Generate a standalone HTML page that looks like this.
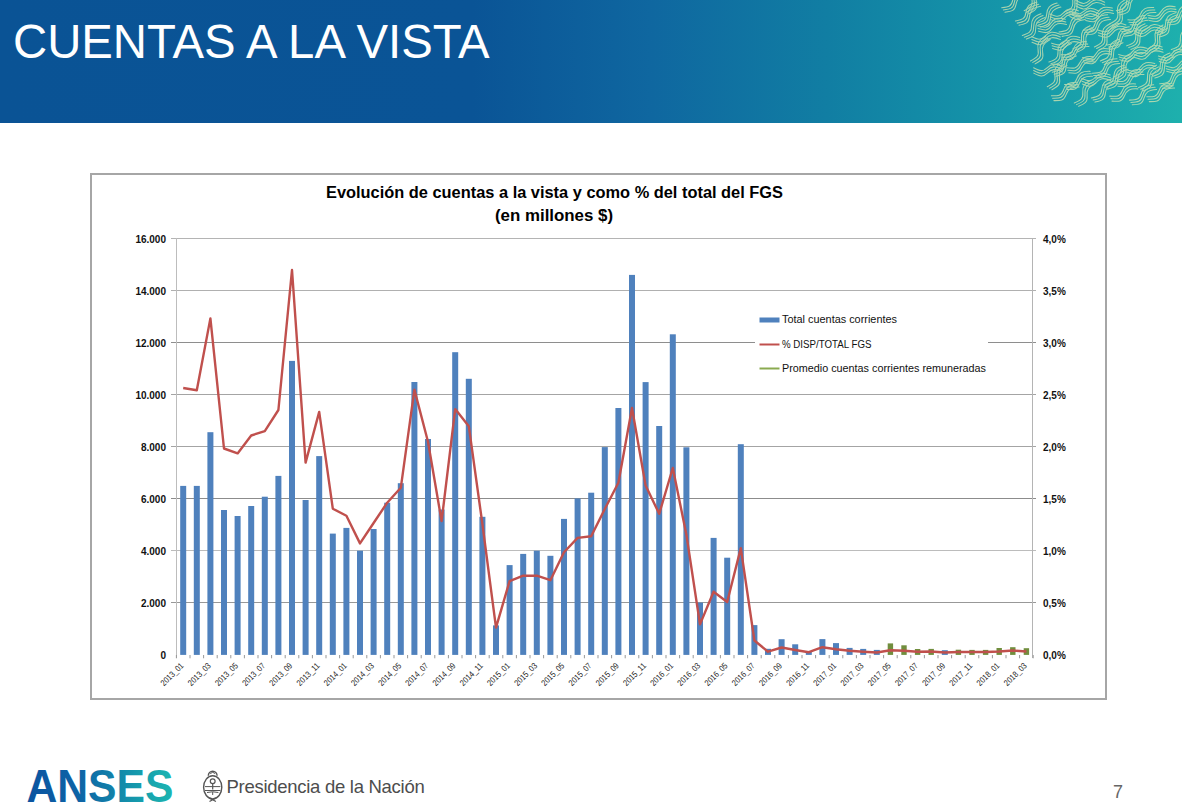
<!DOCTYPE html>
<html><head><meta charset="utf-8">
<style>
html,body{margin:0;padding:0;}
body{width:1182px;height:811px;position:relative;overflow:hidden;background:#fff;font-family:"Liberation Sans",sans-serif;}
.hdr{position:absolute;left:0;top:0;width:1182px;height:123px;
background:linear-gradient(90deg,#0a5395 0%,#0a5496 40%,#0f67a0 55%,#117ea3 70%,#1596a9 85%,#1eb0ad 100%);}
.title{position:absolute;left:13px;top:12.5px;color:#fff;font-size:47.3px;line-height:58px;letter-spacing:0px;white-space:nowrap;}
.box{position:absolute;left:90px;top:173px;width:1013px;height:523px;border:2px solid #a6a6a6;background:#fff;}
svg.ch{position:absolute;left:0;top:0;}
.ax{font-size:10px;font-weight:bold;fill:#111;}
.xl{font-size:8.6px;fill:#1a1a1a;}
.lg{font-size:10px;fill:#111;}
.tt{font-size:16px;font-weight:bold;fill:#000;}
.anses{position:absolute;left:27px;top:758px;font-size:42px;font-weight:bold;line-height:50px;
background:linear-gradient(90deg,#0b4f9a 0%,#0d6aa2 45%,#12a3ad 80%,#1ab5b0 100%);-webkit-background-clip:text;background-clip:text;color:transparent;}
.pres{position:absolute;left:226.5px;top:776px;font-size:18.5px;line-height:22px;letter-spacing:-0.28px;color:#4d4d4d;white-space:nowrap;}
.pnum{position:absolute;left:1113px;top:781px;font-size:18px;line-height:22px;color:#666;}
</style></head><body>
<div class="hdr"></div>
<svg class="waves" width="1182" height="123" style="position:absolute;left:0;top:0"><g fill="none" stroke="#d2e4b0" stroke-width="1.05" stroke-linecap="round" opacity="0.78"><g transform="translate(1000.6,-7.8) rotate(-8 12 7) scale(1.0)"><path d="M0.0,14.0 c7,0 10,0 12,-6 s5,-8 13,-8"/><path d="M1.3,16.4 c7,0 10,0 12,-6 s5,-8 13,-8"/><path d="M2.6,18.8 c7,0 10,0 12,-6 s5,-8 13,-8"/></g><g transform="translate(1019.5,-8.0) rotate(-28 12 7) scale(1.0)"><path d="M0.0,14.0 c7,0 10,0 12,-6 s5,-8 13,-8"/><path d="M1.3,16.4 c7,0 10,0 12,-6 s5,-8 13,-8"/><path d="M2.6,18.8 c7,0 10,0 12,-6 s5,-8 13,-8"/></g><g transform="translate(1060.4,-6.0) rotate(-23 12 7) scale(1.0)"><path d="M0.0,14.0 c7,0 10,0 12,-6 s5,-8 13,-8"/><path d="M1.3,16.4 c7,0 10,0 12,-6 s5,-8 13,-8"/><path d="M2.6,18.8 c7,0 10,0 12,-6 s5,-8 13,-8"/></g><g transform="translate(1077.8,-7.2) rotate(27 12 7) scale(1.0)"><path d="M0.0,14.0 c7,0 10,0 12,-6 s5,-8 13,-8"/><path d="M1.3,16.4 c7,0 10,0 12,-6 s5,-8 13,-8"/><path d="M2.6,18.8 c7,0 10,0 12,-6 s5,-8 13,-8"/></g><g transform="translate(1114.4,-5.8) rotate(-13 12 7) scale(1.0)"><path d="M0.0,14.0 c7,0 10,0 12,-6 s5,-8 13,-8"/><path d="M1.3,16.4 c7,0 10,0 12,-6 s5,-8 13,-8"/><path d="M2.6,18.8 c7,0 10,0 12,-6 s5,-8 13,-8"/></g><g transform="translate(1013.7,4.7) rotate(-12 12 7) scale(1.0)"><path d="M0.0,14.0 c7,0 10,0 12,-6 s5,-8 13,-8"/><path d="M1.3,16.4 c7,0 10,0 12,-6 s5,-8 13,-8"/><path d="M2.6,18.8 c7,0 10,0 12,-6 s5,-8 13,-8"/></g><g transform="translate(1034.4,6.2) rotate(-15 12 7) scale(1.0)"><path d="M0.0,14.0 c7,0 10,0 12,-6 s5,-8 13,-8"/><path d="M1.3,16.4 c7,0 10,0 12,-6 s5,-8 13,-8"/><path d="M2.6,18.8 c7,0 10,0 12,-6 s5,-8 13,-8"/></g><g transform="translate(1051.6,5.2) rotate(23 12 7) scale(1.0)"><path d="M0.0,14.0 c7,0 10,0 12,-6 s5,-8 13,-8"/><path d="M1.3,16.4 c7,0 10,0 12,-6 s5,-8 13,-8"/><path d="M2.6,18.8 c7,0 10,0 12,-6 s5,-8 13,-8"/></g><g transform="translate(1071.8,3.7) rotate(29 12 7) scale(1.0)"><path d="M0.0,14.0 c7,0 10,0 12,-6 s5,-8 13,-8"/><path d="M1.3,16.4 c7,0 10,0 12,-6 s5,-8 13,-8"/><path d="M2.6,18.8 c7,0 10,0 12,-6 s5,-8 13,-8"/></g><g transform="translate(1085.9,4.5) rotate(15 12 7) scale(1.0)"><path d="M0.0,14.0 c7,0 10,0 12,-6 s5,-8 13,-8"/><path d="M1.3,16.4 c7,0 10,0 12,-6 s5,-8 13,-8"/><path d="M2.6,18.8 c7,0 10,0 12,-6 s5,-8 13,-8"/></g><g transform="translate(1105.2,4.9) rotate(-28 12 7) scale(1.0)"><path d="M0.0,14.0 c7,0 10,0 12,-6 s5,-8 13,-8"/><path d="M1.3,16.4 c7,0 10,0 12,-6 s5,-8 13,-8"/><path d="M2.6,18.8 c7,0 10,0 12,-6 s5,-8 13,-8"/></g><g transform="translate(1128.3,6.6) rotate(4 12 7) scale(1.0)"><path d="M0.0,14.0 c7,0 10,0 12,-6 s5,-8 13,-8"/><path d="M1.3,16.4 c7,0 10,0 12,-6 s5,-8 13,-8"/><path d="M2.6,18.8 c7,0 10,0 12,-6 s5,-8 13,-8"/></g><g transform="translate(1149.0,3.9) rotate(12 12 7) scale(1.0)"><path d="M0.0,14.0 c7,0 10,0 12,-6 s5,-8 13,-8"/><path d="M1.3,16.4 c7,0 10,0 12,-6 s5,-8 13,-8"/><path d="M2.6,18.8 c7,0 10,0 12,-6 s5,-8 13,-8"/></g><g transform="translate(1165.8,5.5) rotate(-3 12 7) scale(1.0)"><path d="M0.0,14.0 c7,0 10,0 12,-6 s5,-8 13,-8"/><path d="M1.3,16.4 c7,0 10,0 12,-6 s5,-8 13,-8"/><path d="M2.6,18.8 c7,0 10,0 12,-6 s5,-8 13,-8"/></g><g transform="translate(1019.2,17.8) rotate(-20 12 7) scale(1.0)"><path d="M0.0,14.0 c7,0 10,0 12,-6 s5,-8 13,-8"/><path d="M1.3,16.4 c7,0 10,0 12,-6 s5,-8 13,-8"/><path d="M2.6,18.8 c7,0 10,0 12,-6 s5,-8 13,-8"/></g><g transform="translate(1038.9,15.4) rotate(16 12 7) scale(1.0)"><path d="M0.0,14.0 c7,0 10,0 12,-6 s5,-8 13,-8"/><path d="M1.3,16.4 c7,0 10,0 12,-6 s5,-8 13,-8"/><path d="M2.6,18.8 c7,0 10,0 12,-6 s5,-8 13,-8"/></g><g transform="translate(1058.0,16.5) rotate(-7 12 7) scale(1.0)"><path d="M0.0,14.0 c7,0 10,0 12,-6 s5,-8 13,-8"/><path d="M1.3,16.4 c7,0 10,0 12,-6 s5,-8 13,-8"/><path d="M2.6,18.8 c7,0 10,0 12,-6 s5,-8 13,-8"/></g><g transform="translate(1083.0,15.5) rotate(-3 12 7) scale(1.0)"><path d="M0.0,14.0 c7,0 10,0 12,-6 s5,-8 13,-8"/><path d="M1.3,16.4 c7,0 10,0 12,-6 s5,-8 13,-8"/><path d="M2.6,18.8 c7,0 10,0 12,-6 s5,-8 13,-8"/></g><g transform="translate(1099.4,20.3) rotate(19 12 7) scale(1.0)"><path d="M0.0,14.0 c7,0 10,0 12,-6 s5,-8 13,-8"/><path d="M1.3,16.4 c7,0 10,0 12,-6 s5,-8 13,-8"/><path d="M2.6,18.8 c7,0 10,0 12,-6 s5,-8 13,-8"/></g><g transform="translate(1120.9,16.7) rotate(-5 12 7) scale(1.0)"><path d="M0.0,14.0 c7,0 10,0 12,-6 s5,-8 13,-8"/><path d="M1.3,16.4 c7,0 10,0 12,-6 s5,-8 13,-8"/><path d="M2.6,18.8 c7,0 10,0 12,-6 s5,-8 13,-8"/></g><g transform="translate(1135.9,20.3) rotate(27 12 7) scale(1.0)"><path d="M0.0,14.0 c7,0 10,0 12,-6 s5,-8 13,-8"/><path d="M1.3,16.4 c7,0 10,0 12,-6 s5,-8 13,-8"/><path d="M2.6,18.8 c7,0 10,0 12,-6 s5,-8 13,-8"/></g><g transform="translate(1153.2,16.1) rotate(-16 12 7) scale(1.0)"><path d="M0.0,14.0 c7,0 10,0 12,-6 s5,-8 13,-8"/><path d="M1.3,16.4 c7,0 10,0 12,-6 s5,-8 13,-8"/><path d="M2.6,18.8 c7,0 10,0 12,-6 s5,-8 13,-8"/></g><g transform="translate(1033.4,28.3) rotate(24 12 7) scale(1.0)"><path d="M0.0,14.0 c7,0 10,0 12,-6 s5,-8 13,-8"/><path d="M1.3,16.4 c7,0 10,0 12,-6 s5,-8 13,-8"/><path d="M2.6,18.8 c7,0 10,0 12,-6 s5,-8 13,-8"/></g><g transform="translate(1053.2,33.2) rotate(18 12 7) scale(1.0)"><path d="M0.0,14.0 c7,0 10,0 12,-6 s5,-8 13,-8"/><path d="M1.3,16.4 c7,0 10,0 12,-6 s5,-8 13,-8"/><path d="M2.6,18.8 c7,0 10,0 12,-6 s5,-8 13,-8"/></g><g transform="translate(1069.1,30.4) rotate(-24 12 7) scale(1.0)"><path d="M0.0,14.0 c7,0 10,0 12,-6 s5,-8 13,-8"/><path d="M1.3,16.4 c7,0 10,0 12,-6 s5,-8 13,-8"/><path d="M2.6,18.8 c7,0 10,0 12,-6 s5,-8 13,-8"/></g><g transform="translate(1090.1,28.4) rotate(-26 12 7) scale(1.0)"><path d="M0.0,14.0 c7,0 10,0 12,-6 s5,-8 13,-8"/><path d="M1.3,16.4 c7,0 10,0 12,-6 s5,-8 13,-8"/><path d="M2.6,18.8 c7,0 10,0 12,-6 s5,-8 13,-8"/></g><g transform="translate(1105.7,29.0) rotate(-10 12 7) scale(1.0)"><path d="M0.0,14.0 c7,0 10,0 12,-6 s5,-8 13,-8"/><path d="M1.3,16.4 c7,0 10,0 12,-6 s5,-8 13,-8"/><path d="M2.6,18.8 c7,0 10,0 12,-6 s5,-8 13,-8"/></g><g transform="translate(1123.4,28.0) rotate(-21 12 7) scale(1.0)"><path d="M0.0,14.0 c7,0 10,0 12,-6 s5,-8 13,-8"/><path d="M1.3,16.4 c7,0 10,0 12,-6 s5,-8 13,-8"/><path d="M2.6,18.8 c7,0 10,0 12,-6 s5,-8 13,-8"/></g><g transform="translate(1142.8,30.2) rotate(-28 12 7) scale(1.0)"><path d="M0.0,14.0 c7,0 10,0 12,-6 s5,-8 13,-8"/><path d="M1.3,16.4 c7,0 10,0 12,-6 s5,-8 13,-8"/><path d="M2.6,18.8 c7,0 10,0 12,-6 s5,-8 13,-8"/></g><g transform="translate(1168.0,31.7) rotate(-21 12 7) scale(1.0)"><path d="M0.0,14.0 c7,0 10,0 12,-6 s5,-8 13,-8"/><path d="M1.3,16.4 c7,0 10,0 12,-6 s5,-8 13,-8"/><path d="M2.6,18.8 c7,0 10,0 12,-6 s5,-8 13,-8"/></g><g transform="translate(1025.6,42.0) rotate(-29 12 7) scale(1.0)"><path d="M0.0,14.0 c7,0 10,0 12,-6 s5,-8 13,-8"/><path d="M1.3,16.4 c7,0 10,0 12,-6 s5,-8 13,-8"/><path d="M2.6,18.8 c7,0 10,0 12,-6 s5,-8 13,-8"/></g><g transform="translate(1045.6,44.2) rotate(-21 12 7) scale(1.0)"><path d="M0.0,14.0 c7,0 10,0 12,-6 s5,-8 13,-8"/><path d="M1.3,16.4 c7,0 10,0 12,-6 s5,-8 13,-8"/><path d="M2.6,18.8 c7,0 10,0 12,-6 s5,-8 13,-8"/></g><g transform="translate(1061.3,41.2) rotate(2 12 7) scale(1.0)"><path d="M0.0,14.0 c7,0 10,0 12,-6 s5,-8 13,-8"/><path d="M1.3,16.4 c7,0 10,0 12,-6 s5,-8 13,-8"/><path d="M2.6,18.8 c7,0 10,0 12,-6 s5,-8 13,-8"/></g><g transform="translate(1083.8,46.2) rotate(12 12 7) scale(1.0)"><path d="M0.0,14.0 c7,0 10,0 12,-6 s5,-8 13,-8"/><path d="M1.3,16.4 c7,0 10,0 12,-6 s5,-8 13,-8"/><path d="M2.6,18.8 c7,0 10,0 12,-6 s5,-8 13,-8"/></g><g transform="translate(1097.1,43.2) rotate(-20 12 7) scale(1.0)"><path d="M0.0,14.0 c7,0 10,0 12,-6 s5,-8 13,-8"/><path d="M1.3,16.4 c7,0 10,0 12,-6 s5,-8 13,-8"/><path d="M2.6,18.8 c7,0 10,0 12,-6 s5,-8 13,-8"/></g><g transform="translate(1120.2,44.2) rotate(17 12 7) scale(1.0)"><path d="M0.0,14.0 c7,0 10,0 12,-6 s5,-8 13,-8"/><path d="M1.3,16.4 c7,0 10,0 12,-6 s5,-8 13,-8"/><path d="M2.6,18.8 c7,0 10,0 12,-6 s5,-8 13,-8"/></g><g transform="translate(1135.6,42.3) rotate(19 12 7) scale(1.0)"><path d="M0.0,14.0 c7,0 10,0 12,-6 s5,-8 13,-8"/><path d="M1.3,16.4 c7,0 10,0 12,-6 s5,-8 13,-8"/><path d="M2.6,18.8 c7,0 10,0 12,-6 s5,-8 13,-8"/></g><g transform="translate(1159.9,46.1) rotate(18 12 7) scale(1.0)"><path d="M0.0,14.0 c7,0 10,0 12,-6 s5,-8 13,-8"/><path d="M1.3,16.4 c7,0 10,0 12,-6 s5,-8 13,-8"/><path d="M2.6,18.8 c7,0 10,0 12,-6 s5,-8 13,-8"/></g><g transform="translate(1035.5,59.9) rotate(27 12 7) scale(1.0)"><path d="M0.0,14.0 c7,0 10,0 12,-6 s5,-8 13,-8"/><path d="M1.3,16.4 c7,0 10,0 12,-6 s5,-8 13,-8"/><path d="M2.6,18.8 c7,0 10,0 12,-6 s5,-8 13,-8"/></g><g transform="translate(1049.9,55.3) rotate(-16 12 7) scale(1.0)"><path d="M0.0,14.0 c7,0 10,0 12,-6 s5,-8 13,-8"/><path d="M1.3,16.4 c7,0 10,0 12,-6 s5,-8 13,-8"/><path d="M2.6,18.8 c7,0 10,0 12,-6 s5,-8 13,-8"/></g><g transform="translate(1067.6,55.2) rotate(7 12 7) scale(1.0)"><path d="M0.0,14.0 c7,0 10,0 12,-6 s5,-8 13,-8"/><path d="M1.3,16.4 c7,0 10,0 12,-6 s5,-8 13,-8"/><path d="M2.6,18.8 c7,0 10,0 12,-6 s5,-8 13,-8"/></g><g transform="translate(1092.2,59.0) rotate(-1 12 7) scale(1.0)"><path d="M0.0,14.0 c7,0 10,0 12,-6 s5,-8 13,-8"/><path d="M1.3,16.4 c7,0 10,0 12,-6 s5,-8 13,-8"/><path d="M2.6,18.8 c7,0 10,0 12,-6 s5,-8 13,-8"/></g><g transform="translate(1109.2,58.8) rotate(-25 12 7) scale(1.0)"><path d="M0.0,14.0 c7,0 10,0 12,-6 s5,-8 13,-8"/><path d="M1.3,16.4 c7,0 10,0 12,-6 s5,-8 13,-8"/><path d="M2.6,18.8 c7,0 10,0 12,-6 s5,-8 13,-8"/></g><g transform="translate(1128.3,59.5) rotate(17 12 7) scale(1.0)"><path d="M0.0,14.0 c7,0 10,0 12,-6 s5,-8 13,-8"/><path d="M1.3,16.4 c7,0 10,0 12,-6 s5,-8 13,-8"/><path d="M2.6,18.8 c7,0 10,0 12,-6 s5,-8 13,-8"/></g><g transform="translate(1148.0,56.9) rotate(-19 12 7) scale(1.0)"><path d="M0.0,14.0 c7,0 10,0 12,-6 s5,-8 13,-8"/><path d="M1.3,16.4 c7,0 10,0 12,-6 s5,-8 13,-8"/><path d="M2.6,18.8 c7,0 10,0 12,-6 s5,-8 13,-8"/></g><g transform="translate(1167.3,56.0) rotate(18 12 7) scale(1.0)"><path d="M0.0,14.0 c7,0 10,0 12,-6 s5,-8 13,-8"/><path d="M1.3,16.4 c7,0 10,0 12,-6 s5,-8 13,-8"/><path d="M2.6,18.8 c7,0 10,0 12,-6 s5,-8 13,-8"/></g><g transform="translate(1042.4,67.8) rotate(-29 12 7) scale(1.0)"><path d="M0.0,14.0 c7,0 10,0 12,-6 s5,-8 13,-8"/><path d="M1.3,16.4 c7,0 10,0 12,-6 s5,-8 13,-8"/><path d="M2.6,18.8 c7,0 10,0 12,-6 s5,-8 13,-8"/></g><g transform="translate(1064.8,70.9) rotate(2 12 7) scale(1.0)"><path d="M0.0,14.0 c7,0 10,0 12,-6 s5,-8 13,-8"/><path d="M1.3,16.4 c7,0 10,0 12,-6 s5,-8 13,-8"/><path d="M2.6,18.8 c7,0 10,0 12,-6 s5,-8 13,-8"/></g><g transform="translate(1083.5,69.6) rotate(22 12 7) scale(1.0)"><path d="M0.0,14.0 c7,0 10,0 12,-6 s5,-8 13,-8"/><path d="M1.3,16.4 c7,0 10,0 12,-6 s5,-8 13,-8"/><path d="M2.6,18.8 c7,0 10,0 12,-6 s5,-8 13,-8"/></g><g transform="translate(1101.6,68.3) rotate(-15 12 7) scale(1.0)"><path d="M0.0,14.0 c7,0 10,0 12,-6 s5,-8 13,-8"/><path d="M1.3,16.4 c7,0 10,0 12,-6 s5,-8 13,-8"/><path d="M2.6,18.8 c7,0 10,0 12,-6 s5,-8 13,-8"/></g><g transform="translate(1116.3,68.4) rotate(5 12 7) scale(1.0)"><path d="M0.0,14.0 c7,0 10,0 12,-6 s5,-8 13,-8"/><path d="M1.3,16.4 c7,0 10,0 12,-6 s5,-8 13,-8"/><path d="M2.6,18.8 c7,0 10,0 12,-6 s5,-8 13,-8"/></g><g transform="translate(1135.1,69.5) rotate(-22 12 7) scale(1.0)"><path d="M0.0,14.0 c7,0 10,0 12,-6 s5,-8 13,-8"/><path d="M1.3,16.4 c7,0 10,0 12,-6 s5,-8 13,-8"/><path d="M2.6,18.8 c7,0 10,0 12,-6 s5,-8 13,-8"/></g><g transform="translate(1159.3,69.1) rotate(-3 12 7) scale(1.0)"><path d="M0.0,14.0 c7,0 10,0 12,-6 s5,-8 13,-8"/><path d="M1.3,16.4 c7,0 10,0 12,-6 s5,-8 13,-8"/><path d="M2.6,18.8 c7,0 10,0 12,-6 s5,-8 13,-8"/></g><g transform="translate(1051.5,82.0) rotate(1 12 7) scale(1.0)"><path d="M0.0,14.0 c7,0 10,0 12,-6 s5,-8 13,-8"/><path d="M1.3,16.4 c7,0 10,0 12,-6 s5,-8 13,-8"/><path d="M2.6,18.8 c7,0 10,0 12,-6 s5,-8 13,-8"/></g><g transform="translate(1070.4,84.7) rotate(-24 12 7) scale(1.0)"><path d="M0.0,14.0 c7,0 10,0 12,-6 s5,-8 13,-8"/><path d="M1.3,16.4 c7,0 10,0 12,-6 s5,-8 13,-8"/><path d="M2.6,18.8 c7,0 10,0 12,-6 s5,-8 13,-8"/></g><g transform="translate(1089.5,81.5) rotate(-13 12 7) scale(1.0)"><path d="M0.0,14.0 c7,0 10,0 12,-6 s5,-8 13,-8"/><path d="M1.3,16.4 c7,0 10,0 12,-6 s5,-8 13,-8"/><path d="M2.6,18.8 c7,0 10,0 12,-6 s5,-8 13,-8"/></g><g transform="translate(1110.2,83.0) rotate(4 12 7) scale(1.0)"><path d="M0.0,14.0 c7,0 10,0 12,-6 s5,-8 13,-8"/><path d="M1.3,16.4 c7,0 10,0 12,-6 s5,-8 13,-8"/><path d="M2.6,18.8 c7,0 10,0 12,-6 s5,-8 13,-8"/></g><g transform="translate(1129.1,85.5) rotate(-3 12 7) scale(1.0)"><path d="M0.0,14.0 c7,0 10,0 12,-6 s5,-8 13,-8"/><path d="M1.3,16.4 c7,0 10,0 12,-6 s5,-8 13,-8"/><path d="M2.6,18.8 c7,0 10,0 12,-6 s5,-8 13,-8"/></g><g transform="translate(1146.9,83.0) rotate(1 12 7) scale(1.0)"><path d="M0.0,14.0 c7,0 10,0 12,-6 s5,-8 13,-8"/><path d="M1.3,16.4 c7,0 10,0 12,-6 s5,-8 13,-8"/><path d="M2.6,18.8 c7,0 10,0 12,-6 s5,-8 13,-8"/></g></g></svg>
<div class="title">CUENTAS A LA VISTA</div>
<div class="box"></div>
<svg class="ch" width="1182" height="811" viewBox="0 0 1182 811">
<line x1="171" y1="238.5" x2="1036" y2="238.5" stroke="#b4b4b4" stroke-width="1"/>
<line x1="171" y1="290.5" x2="1036" y2="290.5" stroke="#b0b0b0" stroke-width="1"/>
<line x1="171" y1="342.5" x2="1036" y2="342.5" stroke="#8e8e8e" stroke-width="1"/>
<line x1="171" y1="394.5" x2="1036" y2="394.5" stroke="#a4a4a4" stroke-width="1"/>
<line x1="171" y1="446.5" x2="1036" y2="446.5" stroke="#a4a4a4" stroke-width="1"/>
<line x1="171" y1="498.5" x2="1036" y2="498.5" stroke="#8c8c8c" stroke-width="1"/>
<line x1="171" y1="550.5" x2="1036" y2="550.5" stroke="#bcbcbc" stroke-width="1"/>
<line x1="171" y1="602.5" x2="1036" y2="602.5" stroke="#989898" stroke-width="1"/>
<rect x="755" y="308" width="233" height="72" fill="#fff"/>
<rect x="180.20" y="485.9" width="6.0" height="169.0" fill="#4f81bd"/>
<rect x="193.80" y="485.9" width="6.0" height="169.0" fill="#4f81bd"/>
<rect x="207.40" y="432.2" width="6.0" height="222.7" fill="#4f81bd"/>
<rect x="221.00" y="510.0" width="6.0" height="144.9" fill="#4f81bd"/>
<rect x="234.60" y="516.0" width="6.0" height="138.9" fill="#4f81bd"/>
<rect x="248.20" y="506.0" width="6.0" height="148.9" fill="#4f81bd"/>
<rect x="261.80" y="496.7" width="6.0" height="158.2" fill="#4f81bd"/>
<rect x="275.40" y="475.9" width="6.0" height="179.0" fill="#4f81bd"/>
<rect x="289.00" y="360.9" width="6.0" height="294.0" fill="#4f81bd"/>
<rect x="302.60" y="500.0" width="6.0" height="154.9" fill="#4f81bd"/>
<rect x="316.20" y="456.1" width="6.0" height="198.8" fill="#4f81bd"/>
<rect x="329.80" y="533.6" width="6.0" height="121.3" fill="#4f81bd"/>
<rect x="343.40" y="527.9" width="6.0" height="127.0" fill="#4f81bd"/>
<rect x="357.00" y="550.7" width="6.0" height="104.2" fill="#4f81bd"/>
<rect x="370.60" y="529.0" width="6.0" height="125.9" fill="#4f81bd"/>
<rect x="384.20" y="502.7" width="6.0" height="152.2" fill="#4f81bd"/>
<rect x="397.80" y="483.2" width="6.0" height="171.7" fill="#4f81bd"/>
<rect x="411.40" y="382.0" width="6.0" height="272.9" fill="#4f81bd"/>
<rect x="425.00" y="439.0" width="6.0" height="215.9" fill="#4f81bd"/>
<rect x="438.60" y="509.5" width="6.0" height="145.4" fill="#4f81bd"/>
<rect x="452.20" y="352.2" width="6.0" height="302.7" fill="#4f81bd"/>
<rect x="465.80" y="378.8" width="6.0" height="276.1" fill="#4f81bd"/>
<rect x="479.40" y="516.8" width="6.0" height="138.1" fill="#4f81bd"/>
<rect x="493.00" y="625.4" width="6.0" height="29.5" fill="#4f81bd"/>
<rect x="506.60" y="565.1" width="6.0" height="89.8" fill="#4f81bd"/>
<rect x="520.20" y="553.9" width="6.0" height="101.0" fill="#4f81bd"/>
<rect x="533.80" y="550.7" width="6.0" height="104.2" fill="#4f81bd"/>
<rect x="547.40" y="555.8" width="6.0" height="99.1" fill="#4f81bd"/>
<rect x="561.00" y="518.9" width="6.0" height="136.0" fill="#4f81bd"/>
<rect x="574.60" y="498.4" width="6.0" height="156.5" fill="#4f81bd"/>
<rect x="588.20" y="492.7" width="6.0" height="162.2" fill="#4f81bd"/>
<rect x="601.80" y="447.1" width="6.0" height="207.8" fill="#4f81bd"/>
<rect x="615.40" y="408.0" width="6.0" height="246.9" fill="#4f81bd"/>
<rect x="629.00" y="274.9" width="6.0" height="380.0" fill="#4f81bd"/>
<rect x="642.60" y="382.1" width="6.0" height="272.8" fill="#4f81bd"/>
<rect x="656.20" y="426.0" width="6.0" height="228.9" fill="#4f81bd"/>
<rect x="669.80" y="334.3" width="6.0" height="320.6" fill="#4f81bd"/>
<rect x="683.40" y="447.3" width="6.0" height="207.6" fill="#4f81bd"/>
<rect x="697.00" y="602.6" width="6.0" height="52.3" fill="#4f81bd"/>
<rect x="710.60" y="537.9" width="6.0" height="117.0" fill="#4f81bd"/>
<rect x="724.20" y="557.7" width="6.0" height="97.2" fill="#4f81bd"/>
<rect x="737.80" y="444.2" width="6.0" height="210.7" fill="#4f81bd"/>
<rect x="751.40" y="625.1" width="6.0" height="29.8" fill="#4f81bd"/>
<rect x="765.00" y="648.8" width="6.0" height="6.1" fill="#4f81bd"/>
<rect x="778.60" y="639.2" width="6.0" height="15.7" fill="#4f81bd"/>
<rect x="792.20" y="644.3" width="6.0" height="10.6" fill="#4f81bd"/>
<rect x="805.80" y="651.3" width="6.0" height="3.6" fill="#4f81bd"/>
<rect x="819.40" y="639.1" width="6.0" height="15.8" fill="#4f81bd"/>
<rect x="833.00" y="643.1" width="6.0" height="11.8" fill="#4f81bd"/>
<rect x="846.60" y="647.9" width="6.0" height="7.0" fill="#4f81bd"/>
<rect x="860.20" y="648.9" width="6.0" height="6.0" fill="#4f81bd"/>
<rect x="873.80" y="649.9" width="6.0" height="5.0" fill="#4f81bd"/>
<rect x="887.70" y="643.4" width="5.4" height="11.5" fill="#718e3e"/>
<rect x="901.30" y="645.3" width="5.4" height="9.6" fill="#718e3e"/>
<rect x="914.90" y="649.0" width="5.4" height="5.9" fill="#718e3e"/>
<rect x="928.50" y="648.9" width="5.4" height="6.0" fill="#718e3e"/>
<rect x="941.80" y="650.2" width="6.0" height="4.7" fill="#4f81bd"/>
<rect x="955.70" y="649.7" width="5.4" height="5.2" fill="#718e3e"/>
<rect x="969.30" y="649.9" width="5.4" height="5.0" fill="#718e3e"/>
<rect x="982.90" y="649.9" width="5.4" height="5.0" fill="#718e3e"/>
<rect x="996.50" y="648.0" width="5.4" height="6.9" fill="#718e3e"/>
<rect x="1010.10" y="647.2" width="5.4" height="7.7" fill="#718e3e"/>
<rect x="1023.70" y="648.2" width="5.4" height="6.7" fill="#718e3e"/>
<line x1="176.5" y1="238" x2="176.5" y2="658" stroke="#bdbdbd" stroke-width="1"/>
<line x1="1032.5" y1="238" x2="1032.5" y2="658" stroke="#b4b4b4" stroke-width="1"/>
<line x1="176.4" y1="655.0" x2="176.4" y2="658.3" stroke="#999" stroke-width="1"/>
<line x1="190.0" y1="655.0" x2="190.0" y2="658.3" stroke="#999" stroke-width="1"/>
<line x1="203.6" y1="655.0" x2="203.6" y2="658.3" stroke="#999" stroke-width="1"/>
<line x1="217.2" y1="655.0" x2="217.2" y2="658.3" stroke="#999" stroke-width="1"/>
<line x1="230.8" y1="655.0" x2="230.8" y2="658.3" stroke="#999" stroke-width="1"/>
<line x1="244.4" y1="655.0" x2="244.4" y2="658.3" stroke="#999" stroke-width="1"/>
<line x1="258.0" y1="655.0" x2="258.0" y2="658.3" stroke="#999" stroke-width="1"/>
<line x1="271.6" y1="655.0" x2="271.6" y2="658.3" stroke="#999" stroke-width="1"/>
<line x1="285.2" y1="655.0" x2="285.2" y2="658.3" stroke="#999" stroke-width="1"/>
<line x1="298.8" y1="655.0" x2="298.8" y2="658.3" stroke="#999" stroke-width="1"/>
<line x1="312.4" y1="655.0" x2="312.4" y2="658.3" stroke="#999" stroke-width="1"/>
<line x1="326.0" y1="655.0" x2="326.0" y2="658.3" stroke="#999" stroke-width="1"/>
<line x1="339.6" y1="655.0" x2="339.6" y2="658.3" stroke="#999" stroke-width="1"/>
<line x1="353.2" y1="655.0" x2="353.2" y2="658.3" stroke="#999" stroke-width="1"/>
<line x1="366.8" y1="655.0" x2="366.8" y2="658.3" stroke="#999" stroke-width="1"/>
<line x1="380.4" y1="655.0" x2="380.4" y2="658.3" stroke="#999" stroke-width="1"/>
<line x1="394.0" y1="655.0" x2="394.0" y2="658.3" stroke="#999" stroke-width="1"/>
<line x1="407.6" y1="655.0" x2="407.6" y2="658.3" stroke="#999" stroke-width="1"/>
<line x1="421.2" y1="655.0" x2="421.2" y2="658.3" stroke="#999" stroke-width="1"/>
<line x1="434.8" y1="655.0" x2="434.8" y2="658.3" stroke="#999" stroke-width="1"/>
<line x1="448.4" y1="655.0" x2="448.4" y2="658.3" stroke="#999" stroke-width="1"/>
<line x1="462.0" y1="655.0" x2="462.0" y2="658.3" stroke="#999" stroke-width="1"/>
<line x1="475.6" y1="655.0" x2="475.6" y2="658.3" stroke="#999" stroke-width="1"/>
<line x1="489.2" y1="655.0" x2="489.2" y2="658.3" stroke="#999" stroke-width="1"/>
<line x1="502.8" y1="655.0" x2="502.8" y2="658.3" stroke="#999" stroke-width="1"/>
<line x1="516.4" y1="655.0" x2="516.4" y2="658.3" stroke="#999" stroke-width="1"/>
<line x1="530.0" y1="655.0" x2="530.0" y2="658.3" stroke="#999" stroke-width="1"/>
<line x1="543.6" y1="655.0" x2="543.6" y2="658.3" stroke="#999" stroke-width="1"/>
<line x1="557.2" y1="655.0" x2="557.2" y2="658.3" stroke="#999" stroke-width="1"/>
<line x1="570.8" y1="655.0" x2="570.8" y2="658.3" stroke="#999" stroke-width="1"/>
<line x1="584.4" y1="655.0" x2="584.4" y2="658.3" stroke="#999" stroke-width="1"/>
<line x1="598.0" y1="655.0" x2="598.0" y2="658.3" stroke="#999" stroke-width="1"/>
<line x1="611.6" y1="655.0" x2="611.6" y2="658.3" stroke="#999" stroke-width="1"/>
<line x1="625.2" y1="655.0" x2="625.2" y2="658.3" stroke="#999" stroke-width="1"/>
<line x1="638.8" y1="655.0" x2="638.8" y2="658.3" stroke="#999" stroke-width="1"/>
<line x1="652.4" y1="655.0" x2="652.4" y2="658.3" stroke="#999" stroke-width="1"/>
<line x1="666.0" y1="655.0" x2="666.0" y2="658.3" stroke="#999" stroke-width="1"/>
<line x1="679.6" y1="655.0" x2="679.6" y2="658.3" stroke="#999" stroke-width="1"/>
<line x1="693.2" y1="655.0" x2="693.2" y2="658.3" stroke="#999" stroke-width="1"/>
<line x1="706.8" y1="655.0" x2="706.8" y2="658.3" stroke="#999" stroke-width="1"/>
<line x1="720.4" y1="655.0" x2="720.4" y2="658.3" stroke="#999" stroke-width="1"/>
<line x1="734.0" y1="655.0" x2="734.0" y2="658.3" stroke="#999" stroke-width="1"/>
<line x1="747.6" y1="655.0" x2="747.6" y2="658.3" stroke="#999" stroke-width="1"/>
<line x1="761.2" y1="655.0" x2="761.2" y2="658.3" stroke="#999" stroke-width="1"/>
<line x1="774.8" y1="655.0" x2="774.8" y2="658.3" stroke="#999" stroke-width="1"/>
<line x1="788.4" y1="655.0" x2="788.4" y2="658.3" stroke="#999" stroke-width="1"/>
<line x1="802.0" y1="655.0" x2="802.0" y2="658.3" stroke="#999" stroke-width="1"/>
<line x1="815.6" y1="655.0" x2="815.6" y2="658.3" stroke="#999" stroke-width="1"/>
<line x1="829.2" y1="655.0" x2="829.2" y2="658.3" stroke="#999" stroke-width="1"/>
<line x1="842.8" y1="655.0" x2="842.8" y2="658.3" stroke="#999" stroke-width="1"/>
<line x1="856.4" y1="655.0" x2="856.4" y2="658.3" stroke="#999" stroke-width="1"/>
<line x1="870.0" y1="655.0" x2="870.0" y2="658.3" stroke="#999" stroke-width="1"/>
<line x1="883.6" y1="655.0" x2="883.6" y2="658.3" stroke="#999" stroke-width="1"/>
<line x1="897.2" y1="655.0" x2="897.2" y2="658.3" stroke="#999" stroke-width="1"/>
<line x1="910.8" y1="655.0" x2="910.8" y2="658.3" stroke="#999" stroke-width="1"/>
<line x1="924.4" y1="655.0" x2="924.4" y2="658.3" stroke="#999" stroke-width="1"/>
<line x1="938.0" y1="655.0" x2="938.0" y2="658.3" stroke="#999" stroke-width="1"/>
<line x1="951.6" y1="655.0" x2="951.6" y2="658.3" stroke="#999" stroke-width="1"/>
<line x1="965.2" y1="655.0" x2="965.2" y2="658.3" stroke="#999" stroke-width="1"/>
<line x1="978.8" y1="655.0" x2="978.8" y2="658.3" stroke="#999" stroke-width="1"/>
<line x1="992.4" y1="655.0" x2="992.4" y2="658.3" stroke="#999" stroke-width="1"/>
<line x1="1006.0" y1="655.0" x2="1006.0" y2="658.3" stroke="#999" stroke-width="1"/>
<line x1="1019.6" y1="655.0" x2="1019.6" y2="658.3" stroke="#999" stroke-width="1"/>
<line x1="1033.2" y1="655.0" x2="1033.2" y2="658.3" stroke="#999" stroke-width="1"/>
<polyline points="183.2,388.0 196.8,390.2 210.4,318.4 224.0,448.5 237.6,453.4 251.2,435.5 264.8,431.1 278.4,410.0 292.0,270.0 305.6,462.6 319.2,411.9 332.8,508.7 346.4,515.7 360.0,543.4 373.6,523.0 387.2,502.7 400.8,487.8 414.4,389.6 428.0,441.7 441.6,521.1 455.2,409.1 468.8,426.2 482.4,524.0 496.0,627.6 509.6,581.1 523.2,575.7 536.8,575.7 550.4,580.2 564.0,552.3 577.6,537.9 591.2,536.3 604.8,509.0 618.4,482.7 632.0,408.0 645.6,485.5 659.2,513.8 672.8,468.0 686.4,534.7 700.0,624.4 713.6,591.7 727.2,602.0 740.8,548.1 754.4,640.5 768.0,651.7 781.6,647.5 795.2,650.0 808.8,652.2 822.4,647.2 836.0,649.2 849.6,650.7 863.2,651.7 876.8,652.5 890.4,650.2 904.0,650.7 917.6,651.7 931.2,651.5 944.8,652.5 958.4,652.0 972.0,652.0 985.6,652.0 999.2,651.5 1012.8,650.5 1026.4,651.5" fill="none" stroke="#c0504d" stroke-width="2.4" stroke-linejoin="round"/>
<text x="166" y="659.1" text-anchor="end" class="ax">0</text>
<text x="166" y="607.1" text-anchor="end" class="ax">2.000</text>
<text x="166" y="555.1" text-anchor="end" class="ax">4.000</text>
<text x="166" y="503.1" text-anchor="end" class="ax">6.000</text>
<text x="166" y="451.1" text-anchor="end" class="ax">8.000</text>
<text x="166" y="399.1" text-anchor="end" class="ax">10.000</text>
<text x="166" y="347.1" text-anchor="end" class="ax">12.000</text>
<text x="166" y="295.1" text-anchor="end" class="ax">14.000</text>
<text x="166" y="243.1" text-anchor="end" class="ax">16.000</text>
<text x="1043" y="659.1" class="ax">0,0%</text>
<text x="1043" y="607.1" class="ax">0,5%</text>
<text x="1043" y="555.1" class="ax">1,0%</text>
<text x="1043" y="503.1" class="ax">1,5%</text>
<text x="1043" y="451.1" class="ax">2,0%</text>
<text x="1043" y="399.1" class="ax">2,5%</text>
<text x="1043" y="347.1" class="ax">3,0%</text>
<text x="1043" y="295.1" class="ax">3,5%</text>
<text x="1043" y="243.1" class="ax">4,0%</text>
<text transform="translate(184.2,666.3) rotate(-45)" text-anchor="end" class="xl" textLength="28.5" lengthAdjust="spacingAndGlyphs">2013_01</text>
<text transform="translate(211.4,666.3) rotate(-45)" text-anchor="end" class="xl" textLength="28.5" lengthAdjust="spacingAndGlyphs">2013_03</text>
<text transform="translate(238.6,666.3) rotate(-45)" text-anchor="end" class="xl" textLength="28.5" lengthAdjust="spacingAndGlyphs">2013_05</text>
<text transform="translate(265.8,666.3) rotate(-45)" text-anchor="end" class="xl" textLength="28.5" lengthAdjust="spacingAndGlyphs">2013_07</text>
<text transform="translate(293.0,666.3) rotate(-45)" text-anchor="end" class="xl" textLength="28.5" lengthAdjust="spacingAndGlyphs">2013_09</text>
<text transform="translate(320.2,666.3) rotate(-45)" text-anchor="end" class="xl" textLength="28.5" lengthAdjust="spacingAndGlyphs">2013_11</text>
<text transform="translate(347.4,666.3) rotate(-45)" text-anchor="end" class="xl" textLength="28.5" lengthAdjust="spacingAndGlyphs">2014_01</text>
<text transform="translate(374.6,666.3) rotate(-45)" text-anchor="end" class="xl" textLength="28.5" lengthAdjust="spacingAndGlyphs">2014_03</text>
<text transform="translate(401.8,666.3) rotate(-45)" text-anchor="end" class="xl" textLength="28.5" lengthAdjust="spacingAndGlyphs">2014_05</text>
<text transform="translate(429.0,666.3) rotate(-45)" text-anchor="end" class="xl" textLength="28.5" lengthAdjust="spacingAndGlyphs">2014_07</text>
<text transform="translate(456.2,666.3) rotate(-45)" text-anchor="end" class="xl" textLength="28.5" lengthAdjust="spacingAndGlyphs">2014_09</text>
<text transform="translate(483.4,666.3) rotate(-45)" text-anchor="end" class="xl" textLength="28.5" lengthAdjust="spacingAndGlyphs">2014_11</text>
<text transform="translate(510.6,666.3) rotate(-45)" text-anchor="end" class="xl" textLength="28.5" lengthAdjust="spacingAndGlyphs">2015_01</text>
<text transform="translate(537.8,666.3) rotate(-45)" text-anchor="end" class="xl" textLength="28.5" lengthAdjust="spacingAndGlyphs">2015_03</text>
<text transform="translate(565.0,666.3) rotate(-45)" text-anchor="end" class="xl" textLength="28.5" lengthAdjust="spacingAndGlyphs">2015_05</text>
<text transform="translate(592.2,666.3) rotate(-45)" text-anchor="end" class="xl" textLength="28.5" lengthAdjust="spacingAndGlyphs">2015_07</text>
<text transform="translate(619.4,666.3) rotate(-45)" text-anchor="end" class="xl" textLength="28.5" lengthAdjust="spacingAndGlyphs">2015_09</text>
<text transform="translate(646.6,666.3) rotate(-45)" text-anchor="end" class="xl" textLength="28.5" lengthAdjust="spacingAndGlyphs">2015_11</text>
<text transform="translate(673.8,666.3) rotate(-45)" text-anchor="end" class="xl" textLength="28.5" lengthAdjust="spacingAndGlyphs">2016_01</text>
<text transform="translate(701.0,666.3) rotate(-45)" text-anchor="end" class="xl" textLength="28.5" lengthAdjust="spacingAndGlyphs">2016_03</text>
<text transform="translate(728.2,666.3) rotate(-45)" text-anchor="end" class="xl" textLength="28.5" lengthAdjust="spacingAndGlyphs">2016_05</text>
<text transform="translate(755.4,666.3) rotate(-45)" text-anchor="end" class="xl" textLength="28.5" lengthAdjust="spacingAndGlyphs">2016_07</text>
<text transform="translate(782.6,666.3) rotate(-45)" text-anchor="end" class="xl" textLength="28.5" lengthAdjust="spacingAndGlyphs">2016_09</text>
<text transform="translate(809.8,666.3) rotate(-45)" text-anchor="end" class="xl" textLength="28.5" lengthAdjust="spacingAndGlyphs">2016_11</text>
<text transform="translate(837.0,666.3) rotate(-45)" text-anchor="end" class="xl" textLength="28.5" lengthAdjust="spacingAndGlyphs">2017_01</text>
<text transform="translate(864.2,666.3) rotate(-45)" text-anchor="end" class="xl" textLength="28.5" lengthAdjust="spacingAndGlyphs">2017_03</text>
<text transform="translate(891.4,666.3) rotate(-45)" text-anchor="end" class="xl" textLength="28.5" lengthAdjust="spacingAndGlyphs">2017_05</text>
<text transform="translate(918.6,666.3) rotate(-45)" text-anchor="end" class="xl" textLength="28.5" lengthAdjust="spacingAndGlyphs">2017_07</text>
<text transform="translate(945.8,666.3) rotate(-45)" text-anchor="end" class="xl" textLength="28.5" lengthAdjust="spacingAndGlyphs">2017_09</text>
<text transform="translate(973.0,666.3) rotate(-45)" text-anchor="end" class="xl" textLength="28.5" lengthAdjust="spacingAndGlyphs">2017_11</text>
<text transform="translate(1000.2,666.3) rotate(-45)" text-anchor="end" class="xl" textLength="28.5" lengthAdjust="spacingAndGlyphs">2018_01</text>
<text transform="translate(1027.4,666.3) rotate(-45)" text-anchor="end" class="xl" textLength="28.5" lengthAdjust="spacingAndGlyphs">2018_03</text>
<rect x="759.5" y="317.5" width="20" height="5" fill="#4f81bd"/>
<line x1="759.5" y1="344.5" x2="779.5" y2="344.5" stroke="#c0504d" stroke-width="2"/>
<line x1="759.5" y1="368.5" x2="779.5" y2="368.5" stroke="#8aaa50" stroke-width="2"/>
<text x="782" y="323" class="lg" textLength="115" lengthAdjust="spacingAndGlyphs">Total cuentas corrientes</text>
<text x="782" y="347.5" class="lg" textLength="89.5" lengthAdjust="spacingAndGlyphs">% DISP/TOTAL FGS</text>
<text x="782" y="372" class="lg" textLength="204" lengthAdjust="spacingAndGlyphs">Promedio cuentas corrientes remuneradas</text>
<text x="326" y="197.5" class="tt" textLength="457" lengthAdjust="spacingAndGlyphs">Evolución de cuentas a la vista y como % del total del FGS</text>
<text x="495" y="220.5" class="tt" textLength="118" lengthAdjust="spacingAndGlyphs">(en millones $)</text>
</svg>
<svg width="1182" height="60" viewBox="0 751 1182 60" style="position:absolute;left:0;top:751px">
<defs><linearGradient id="ag" gradientUnits="userSpaceOnUse" x1="28" y1="0" x2="171" y2="0">
<stop offset="0" stop-color="#0b54a0"/><stop offset="0.35" stop-color="#0d63a6"/><stop offset="0.6" stop-color="#1282a9"/><stop offset="0.8" stop-color="#169fad"/><stop offset="1" stop-color="#1cb4b1"/></linearGradient></defs>
<text x="26.5" y="801.5" font-size="45.5" font-weight="bold" fill="url(#ag)" textLength="147" lengthAdjust="spacingAndGlyphs">ANSES</text>
</svg>
<svg width="30" height="40" style="position:absolute;left:198px;top:765px" viewBox="198 765 30 40">
<g fill="none" stroke="#555" stroke-width="1.4">
<ellipse cx="212.7" cy="787.3" rx="9.1" ry="11.6"/>
<path d="M208.3,775.8 a4.4,4.6 0 0 1 8.8,0"/>
<path d="M210.2,773.6 l2.5,-1.3 l2.5,1.3" stroke-width="1"/>
<circle cx="212.7" cy="781.2" r="2.4" stroke-width="1.2"/>
<line x1="212.7" y1="783.5" x2="212.7" y2="789.5" stroke-width="1.2"/>
<line x1="205" y1="786.6" x2="220.4" y2="786.6" stroke-width="1"/>
<line x1="205" y1="790.5" x2="220.4" y2="790.5" stroke-width="1"/>
<path d="M207,792.5 q5.7,-1.5 11.4,0" stroke-width="1"/>
<line x1="212.7" y1="792" x2="212.7" y2="795" stroke-width="1"/>
<path d="M209.5,801.5 l6.4,-3.5 M209.5,798 l6.4,3.5" stroke-width="1.2"/>
</g>
</svg>
<div class="pres">Presidencia de la Nación</div>
<div class="pnum">7</div>
</body></html>
